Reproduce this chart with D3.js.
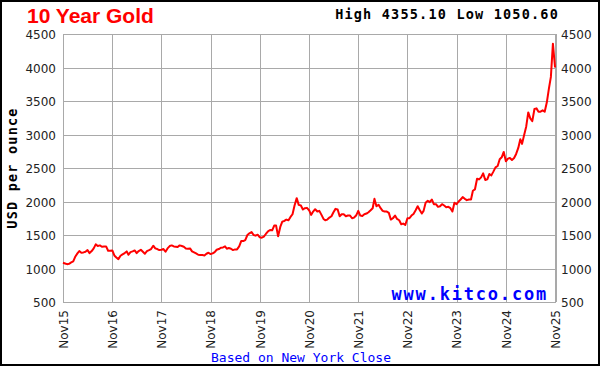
<!DOCTYPE html>
<html>
<head>
<meta charset="utf-8">
<script src="https://cdn.jsdelivr.net/npm/d3@7"></script>
<style>
  body { margin: 0; background: #fff; }
  svg { display: block; }
</style>
</head>
<body>
<svg id="chart"></svg>
<script>
// gold price, USD/oz at the 1st and 16th of each month
const p2015 = [1085, 1075, 1065, 1070]; // from Nov 1
const p2016 = [1090, 1105, 1180, 1225, 1260, 1235, 1240, 1250, 1275, 1230, 1260, 1300,
               1360, 1335, 1345, 1325, 1330, 1330, 1265, 1265, 1270, 1195, 1165, 1140];
const p2017 = [1190, 1210, 1230, 1255, 1205, 1245, 1255, 1270, 1230, 1260, 1280, 1250,
               1220, 1260, 1275, 1290, 1340, 1300, 1290, 1275, 1280, 1290, 1250, 1300];
const p2018 = [1335, 1345, 1330, 1325, 1320, 1345, 1335, 1325, 1300, 1295, 1300, 1255,
               1240, 1225, 1205, 1200, 1200, 1195, 1220, 1235, 1215, 1225, 1245, 1280];
const p2019 = [1290, 1310, 1315, 1330, 1295, 1305, 1295, 1275, 1285, 1285, 1330, 1410,
               1410, 1425, 1500, 1525, 1545, 1500, 1490, 1505, 1465, 1460, 1475, 1515];
const p2020 = [1555, 1575, 1570, 1640, 1640, 1480, 1620, 1700, 1710, 1730, 1720, 1770,
               1810, 1940, 2050, 1950, 1940, 1880, 1900, 1905, 1870, 1800, 1850, 1885];
const p2021 = [1850, 1860, 1800, 1740, 1720, 1730, 1760, 1780, 1840, 1890, 1880, 1780,
               1810, 1810, 1780, 1790, 1790, 1750, 1760, 1790, 1860, 1790, 1785, 1810];
const p2022 = [1820, 1840, 1870, 1900, 2040, 1930, 1950, 1900, 1860, 1850, 1850, 1830,
               1730, 1750, 1790, 1740, 1720, 1660, 1670, 1650, 1750, 1750, 1790, 1815];
const p2023 = [1870, 1930, 1870, 1820, 1860, 1980, 2010, 1990, 2030, 1960, 1960, 1920,
               1930, 1960, 1940, 1915, 1920, 1900, 1850, 1980, 1960, 2000, 2030, 2065];
const p2024 = [2040, 2020, 2030, 2030, 2160, 2180, 2340, 2330, 2360, 2420, 2320, 2330,
               2410, 2390, 2450, 2510, 2530, 2630, 2660, 2740, 2600, 2640, 2650, 2620];
const p2025 = [2650, 2710, 2800, 2930, 2860, 2990, 3120, 3330, 3240, 3200, 3380, 3390,
               3340, 3340, 3360, 3340, 3480, 3680, 3860, 4355.10, 4000]; // to Nov 1

const yearlyPrices = [p2015, p2016, p2017, p2018, p2019, p2020, p2021, p2022, p2023, p2024, p2025];
const firstYear = 2015;
const lowPrice = 1050.60;
const yTicks = [500, 1000, 1500, 2000, 2500, 3000, 3500, 4000, 4500];
const xTickYears = [2015, 2016, 2017, 2018, 2019, 2020, 2021, 2022, 2023, 2024, 2025];

const width = 600;
const height = 366;
const plotLeft = 63, plotRight = 556, plotTop = 34, plotBottom = 302;

const svg = d3.select("#chart")
  .attr("width", width)
  .attr("height", height);

// join the yearly arrays into dated points
const data = [];
yearlyPrices.forEach((arr, k) => {
  const startHalf = k === 0 ? 20 : 0; // 2015 starts in November
  arr.forEach((v, i) => {
    const h = startHalf + i;
    data.push({ date: new Date(firstYear + k, Math.floor(h / 2), h % 2 ? 16 : 1), value: v });
  });
});

const xScale = d3.scaleTime()
  .domain([new Date(2015, 10, 1), new Date(2025, 10, 8)])
  .range([plotLeft, plotRight]);

const yScale = d3.scaleLinear()
  .domain([500, 4500])
  .range([plotBottom, plotTop]);

svg.append("rect")
  .attr("x", 1).attr("y", 1)
  .attr("width", width - 2).attr("height", height - 2)
  .style("fill", "#fff")
  .style("stroke", "#000")
  .style("stroke-width", 2);

// grid
const gridColor = "#a9a9a9";
svg.append("g")
  .selectAll("line")
  .data(yTicks)
  .enter()
  .append("line")
  .attr("x1", plotLeft).attr("x2", plotRight)
  .attr("y1", (d) => Math.round(yScale(d)) + 0.5)
  .attr("y2", (d) => Math.round(yScale(d)) + 0.5)
  .style("stroke", gridColor);

const xTickDates = xTickYears.map((y) => new Date(y, 10, 1));
svg.append("g")
  .selectAll("line")
  .data(xTickDates.concat(xScale.domain()[1]))
  .enter()
  .append("line")
  .attr("x1", (d) => Math.round(xScale(d)) + 0.5)
  .attr("x2", (d) => Math.round(xScale(d)) + 0.5)
  .attr("y1", plotTop).attr("y2", plotBottom)
  .style("stroke", gridColor);

// axes
const yLeft = d3.axisLeft(yScale).tickValues(yTicks).tickSize(0).tickPadding(7).tickFormat(d3.format("d"));
const yRight = d3.axisRight(yScale).tickValues(yTicks).tickSize(0).tickPadding(5).tickFormat(d3.format("d"));
const xAxis = d3.axisBottom(xScale)
  .tickValues(xTickDates)
  .tickSize(0)
  .tickFormat((d) => "Nov" + d3.timeFormat("%y")(d));

const styleAxis = (g) => {
  g.select(".domain").remove();
  g.selectAll("text")
    .style("font-family", "DejaVu Sans")
    .style("font-size", "12px")
    .style("fill", "#222");
};

svg.append("g").attr("transform", `translate(${plotLeft},0)`).call(yLeft).call(styleAxis)
  .selectAll("text").attr("dy", "0.4em");
svg.append("g").attr("transform", `translate(${plotRight},0)`).call(yRight).call(styleAxis)
  .selectAll("text").attr("dy", "0.4em");

svg.append("g")
  .attr("transform", `translate(0,${plotBottom})`)
  .call(xAxis)
  .call(styleAxis)
  .selectAll("text")
  .attr("transform", "rotate(-90)")
  .attr("text-anchor", "end")
  .attr("x", -8)
  .attr("y", 0)
  .attr("dy", "0.36em");

// price line
const line = d3.line()
  .x((d) => xScale(d.date))
  .y((d) => yScale(d.value));

svg.append("path")
  .datum(data)
  .attr("d", line)
  .style("fill", "none")
  .style("stroke", "#ff0000")
  .style("stroke-width", 2)
  .style("stroke-linejoin", "round");

// texts
svg.append("text")
  .attr("x", 27).attr("y", 23)
  .style("font-family", "Liberation Sans")
  .style("font-weight", "bold")
  .style("font-size", "21px")
  .style("fill", "#ff0000")
  .text("10 Year Gold");

const hi = d3.max(data, (d) => d.value);
svg.append("text")
  .attr("x", 559).attr("y", 19)
  .attr("text-anchor", "end")
  .style("font-family", "DejaVu Sans Mono")
  .style("font-weight", "bold")
  .style("font-size", "13.5px")
  .style("letter-spacing", "1.2px")
  .style("fill", "#000")
  .text(`High ${hi.toFixed(2)} Low ${lowPrice.toFixed(2)}`);

svg.append("text")
  .attr("transform", `translate(17, 168) rotate(-90)`)
  .attr("text-anchor", "middle")
  .style("font-family", "DejaVu Sans Mono")
  .style("font-weight", "bold")
  .style("font-size", "13.5px")
  .style("letter-spacing", "1.2px")
  .style("fill", "#000")
  .text("USD per ounce");

svg.append("text")
  .attr("x", 548).attr("y", 300)
  .attr("text-anchor", "end")
  .style("font-family", "DejaVu Sans Mono")
  .style("font-weight", "bold")
  .style("font-size", "17px")
  .style("letter-spacing", "1.8px")
  .style("fill", "#0000ff")
  .text("www.kitco.com");

svg.append("text")
  .attr("x", 301).attr("y", 362)
  .attr("text-anchor", "middle")
  .style("font-family", "DejaVu Sans Mono")
  .style("font-size", "13px")
  .style("fill", "#0000ff")
  .text("Based on New York Close");
</script>
</body>
</html>
